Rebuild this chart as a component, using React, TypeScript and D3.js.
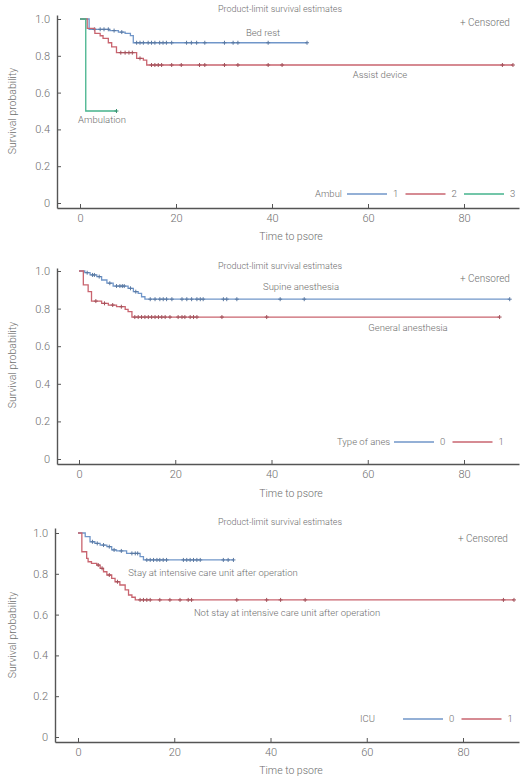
import * as React from 'react'
import * as d3 from 'd3'

const BLUE = '#7096c9'
const RED = '#c9646f'
const GREEN = '#45b38c'
const AXIS = '#555'
const TEXT = '#6e6e6e'
const FONT = 'Roboto, "Noto Sans", sans-serif'

const xTicks = [0, 20, 40, 60, 80]
const yTicks = [0, 0.2, 0.4, 0.6, 0.8, 1]

// panel 1: Ambul
const ambulGroups = ['1', '2', '3']
const bedRestTimes = [1.9, 6.2, 8.0, 9.4, 10.5, 11.1]
const bedRestSurv = [0.944, 0.937, 0.929, 0.922, 0.91, 0.871]
const bedRestCensor = [3.0, 4.2, 5.0, 5.9, 7.1, 8.7, 11.8, 12.5, 13.2, 14.2, 14.9, 15.6, 16.6, 17.3, 18.0, 19.1, 22.2, 23.2, 24.3, 26.0, 30.1, 31.9, 32.9, 39.2, 47.3]
const assistTimes = [1.5, 3.1, 4.2, 4.8, 5.9, 6.6, 7.6, 11.8, 13.2, 13.9]
const assistSurv = [0.949, 0.922, 0.909, 0.895, 0.871, 0.849, 0.817, 0.786, 0.777, 0.75]
const assistCensor = [8.5, 9.4, 10.2, 10.9, 12.5, 14.9, 15.6, 16.3, 17.0, 19.1, 21.1, 24.9, 26.0, 30.1, 32.9, 39.2, 42.1, 88.0, 90.2]
const ambulationTimes = [1.2]
const ambulationSurv = [0.5]
const ambulationCensor = [7.6]

// panel 2: Type of anes
const anesGroups = ['0', '1']
const supineTimes = [1.2, 2.3, 3.7, 4.7, 5.8, 7.1, 10.2, 11.3, 12.3, 13.0, 13.7]
const supineSurv = [0.991, 0.979, 0.97, 0.952, 0.935, 0.92, 0.908, 0.89, 0.881, 0.863, 0.85]
const supineCensor = [1.7, 2.8, 3.2, 4.2, 6.4, 7.8, 8.5, 9.0, 9.4, 10.7, 11.8, 14.8, 15.8, 16.8, 17.5, 18.2, 19.3, 21.4, 22.4, 23.4, 24.5, 25.2, 25.8, 30.0, 30.7, 32.8, 41.8, 46.8, 89.5]
const generalTimes = [0.9, 1.9, 2.6, 4.7, 6.1, 7.8, 9.6, 10.2, 11.0]
const generalSurv = [0.926, 0.89, 0.84, 0.828, 0.819, 0.81, 0.796, 0.784, 0.755]
const generalCensor = [3.5, 5.3, 7.0, 8.8, 11.6, 12.3, 13.0, 13.7, 14.4, 15.1, 15.8, 16.5, 17.2, 17.9, 18.9, 20.6, 21.4, 22.0, 23.1, 23.8, 24.5, 29.7, 39.0, 87.4]

// panel 3: ICU
const icuGroups = ['0', '1']
const icu0Times = [1.5, 2.5, 3.5, 4.6, 6.0, 7.0, 8.0, 10.1, 12.9, 13.6]
const icu0Surv = [0.982, 0.957, 0.949, 0.941, 0.933, 0.917, 0.912, 0.9, 0.884, 0.868]
const icu0Censor = [3.0, 4.0, 5.3, 6.5, 7.5, 9.0, 11.2, 11.9, 12.4, 14.3, 15.0, 15.7, 16.4, 17.0, 17.7, 18.4, 21.9, 22.6, 23.3, 24.0, 24.7, 25.4, 30.2, 31.2, 32.3]
const icu1Times = [0.8, 1.8, 2.1, 2.8, 3.9, 4.6, 5.3, 6.0, 7.0, 7.7, 8.7, 9.8, 10.5, 11.2, 11.9]
const icu1Surv = [0.908, 0.876, 0.859, 0.851, 0.843, 0.827, 0.81, 0.794, 0.778, 0.761, 0.745, 0.721, 0.696, 0.685, 0.672]
const icu1Censor = [4.2, 5.0, 6.5, 8.2, 12.9, 13.6, 14.3, 15.0, 17.0, 19.1, 21.2, 22.9, 23.6, 33.0, 39.2, 42.1, 47.2, 88.4, 90.6]

interface Curve { times: number[]; surv: number[]; censor: number[]; color: string }
interface Note { text: string; x: number; y: number; anchor?: string }
interface PanelSpec {
	axisX: number; zeroX: number; x80: number; endX: number
	y1: number; y0: number; axisY: number; topY: number
	titleY: number; censY: number; censX: number
	legendTitle: string; legendTitleX: number; legendX: number; legendY: number; groups: string[]
	xLabelY: number
	curves: Curve[]
	notes: Note[]
}

const panels: PanelSpec[] = [
	{
		axisX: 57, zeroX: 80, x80: 464, endX: 519, y1: 19, y0: 203, axisY: 208, topY: 15,
		titleY: 9, censY: 22, censX: 460,
		legendTitle: 'Ambul', legendTitleX: 315, legendX: 347, legendY: 194, groups: ambulGroups,
		xLabelY: 236,
		curves: [
			{ times: bedRestTimes, surv: bedRestSurv, censor: bedRestCensor, color: BLUE },
			{ times: assistTimes, surv: assistSurv, censor: assistCensor, color: RED },
			{ times: ambulationTimes, surv: ambulationSurv, censor: ambulationCensor, color: GREEN },
		],
		notes: [
			{ text: 'Bed rest', x: 263, y: 33 },
			{ text: 'Assist device', x: 380, y: 75 },
			{ text: 'Ambulation', x: 102, y: 120 },
		],
	},
	{
		axisX: 57, zeroX: 79, x80: 464, endX: 519, y1: 271, y0: 459, axisY: 464, topY: 268,
		titleY: 266, censY: 278, censX: 460,
		legendTitle: 'Type of anes', legendTitleX: 337, legendX: 394, legendY: 442, groups: anesGroups,
		xLabelY: 493,
		curves: [
			{ times: supineTimes, surv: supineSurv, censor: supineCensor, color: BLUE },
			{ times: generalTimes, surv: generalSurv, censor: generalCensor, color: RED },
		],
		notes: [
			{ text: 'Supine anesthesia', x: 301, y: 287 },
			{ text: 'General anesthesia', x: 408, y: 328 },
		],
	},
	{
		axisX: 55, zeroX: 78, x80: 463, endX: 519, y1: 533, y0: 737, axisY: 742, topY: 528,
		titleY: 522, censY: 538, censX: 458,
		legendTitle: 'ICU', legendTitleX: 360, legendX: 403, legendY: 719, groups: icuGroups,
		xLabelY: 770,
		curves: [
			{ times: icu0Times, surv: icu0Surv, censor: icu0Censor, color: BLUE },
			{ times: icu1Times, surv: icu1Surv, censor: icu1Censor, color: RED },
		],
		notes: [
			{ text: 'Stay at intensive care unit after operation', x: 213, y: 573 },
			{ text: 'Not stay at intensive care unit after operation', x: 287, y: 613 },
		],
	},
]

function survAt(c: Curve, t: number) {
	let s = 1
	c.times.forEach((tt, i) => { if (tt <= t) s = c.surv[i] })
	return s
}

function Panel({ spec }: { spec: PanelSpec }) {
	const xRef = React.useRef<SVGGElement>(null)
	const yRef = React.useRef<SVGGElement>(null)

	const base = d3.scaleLinear().domain([0, 80]).range([spec.zeroX, spec.x80])
	const x = d3.scaleLinear().domain([base.invert(spec.axisX), base.invert(spec.endX)]).range([spec.axisX, spec.endX])
	const yBase = d3.scaleLinear().domain([0, 1]).range([spec.y0, spec.y1])
	const y = d3.scaleLinear().domain([yBase.invert(spec.axisY), yBase.invert(spec.topY)]).range([spec.axisY, spec.topY])

	React.useEffect(() => {
		const xa = d3.select(xRef.current!)
		xa.selectAll('*').remove()
		xa.call(d3.axisBottom(x).tickValues(xTicks).tickSizeInner(-4).tickSizeOuter(0).tickPadding(6) as any)
		const ya = d3.select(yRef.current!)
		ya.selectAll('*').remove()
		ya.call(d3.axisLeft(y).tickValues(yTicks).tickSizeInner(-4).tickSizeOuter(0).tickPadding(7)
			.tickFormat(d => (+d === 0 ? '0' : (+d).toFixed(1))) as any)
		for (const g of [xa, ya]) {
			g.attr('font-family', FONT).attr('font-size', 11).attr('font-weight', 300)
			g.select('.domain').attr('stroke', AXIS).attr('stroke-width', 1.4)
			g.selectAll('.tick line').attr('stroke', AXIS)
			g.selectAll('.tick text').attr('fill', TEXT)
		}
	})

	const line = d3.line<[number, number]>().x(d => x(d[0])).y(d => y(d[1])).curve(d3.curveStepAfter)

	return (
		<g fontFamily={FONT} fontWeight={300}>
			<g ref={xRef} transform={`translate(0,${spec.axisY})`} />
			<g ref={yRef} transform={`translate(${spec.axisX},0)`} />
			{spec.curves.map((c, ci) => {
				const end = Math.max(d3.max(c.censor) ?? 0, d3.max(c.times) ?? 0)
				const pts: [number, number][] = [[0, 1], ...c.times.map((t, i) => [t, c.surv[i]] as [number, number])]
				pts.push([end, c.surv[c.surv.length - 1]])
				return (
					<g key={ci}>
						<path d={line(pts) ?? ''} fill="none" stroke={c.color} strokeWidth={1.3} />
						{c.censor.map((t, i) => (
							<path key={i} transform={`translate(${x(t)},${y(survAt(c, t))})`}
								d="M-2,0H2M0,-2V2" stroke={d3.color(c.color)!.darker(0.6).toString()} strokeWidth={1} />
						))}
					</g>
				)
			})}
			<text x={280} y={spec.titleY} dy="0.35em" textAnchor="middle" fontSize={9} fill={TEXT}>
				Product-limit survival estimates
			</text>
			<text x={spec.censX} y={spec.censY} dy="0.35em" fontSize={10} fill={TEXT}>+ Censored</text>
			{spec.notes.map((n, i) => (
				<text key={i} x={n.x} y={n.y} dy="0.35em" textAnchor="middle" fontSize={9.5} fill={TEXT}>{n.text}</text>
			))}
			<text x={spec.legendTitleX} y={spec.legendY} dy="0.35em" fontSize={9.5} fill={TEXT}>{spec.legendTitle}</text>
			{spec.groups.map((g, i) => {
				const lx = spec.legendX + i * 58.5
				return (
					<g key={g}>
						<line x1={lx} x2={lx + 40} y1={spec.legendY} y2={spec.legendY} stroke={spec.curves[i].color} strokeWidth={1.3} />
						<text x={lx + 46} y={spec.legendY} dy="0.35em" fontSize={9.5} fill={TEXT}>{g}</text>
					</g>
				)
			})}
			<text x={291} y={spec.xLabelY} dy="0.35em" textAnchor="middle" fontSize={10.5} fill={TEXT}>Time to psore</text>
			<text transform={`translate(12,${(spec.y0 + spec.y1) / 2}) rotate(-90)`} dy="0.35em" textAnchor="middle"
				fontSize={10.5} fill={TEXT}>Survival probability</text>
		</g>
	)
}

export default function App() {
	return (
		<svg width={522} height={783} style={{ position: 'absolute', left: 0, top: 0, background: '#fff' }}>
			{panels.map((p, i) => <Panel key={i} spec={p} />)}
		</svg>
	)
}
